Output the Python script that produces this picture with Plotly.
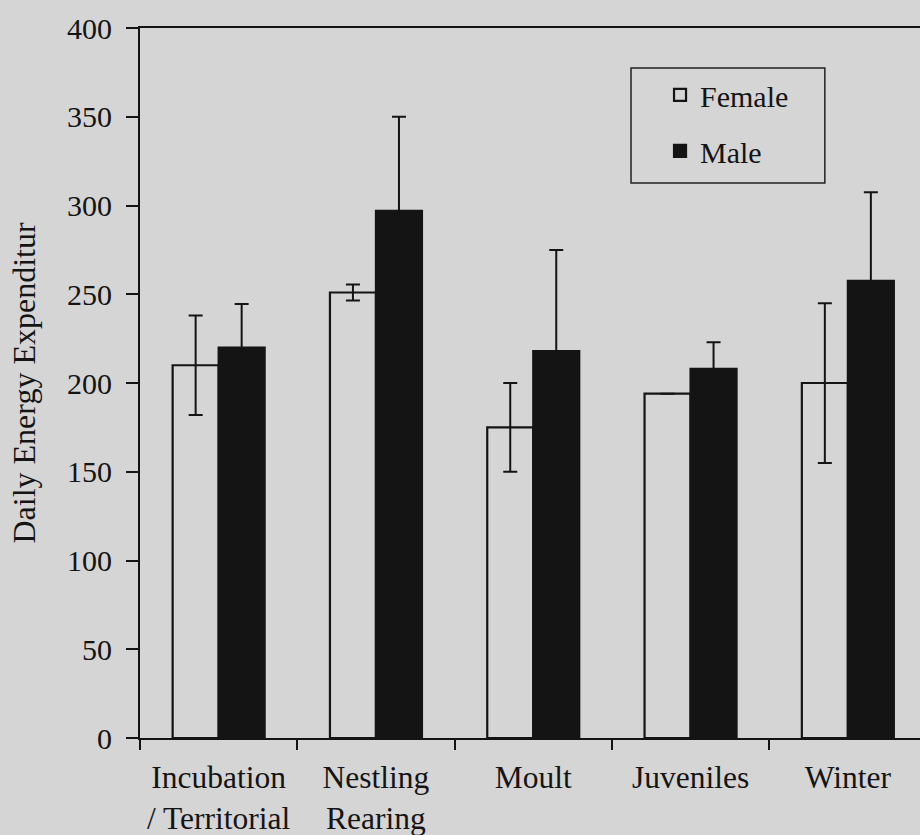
import numpy as np
import plotly.graph_objects as go

# Daily energy expenditure by season / breeding stage
stages = ["Incubation<br>/ Territorial", "Nestling<br>Rearing", "Moult", "Juveniles", "Winter"]
female_dee = [210, 251, 175, 194, 200]
female_err = [28, 4.5, 25, None, 45]
male_dee = [220, 297, 218, 208, 257.5]
male_err = [24.5, 53, 57, 15, 50]
y_ticks = [0, 50, 100, 150, 200, 250, 300, 350, 400]

PAPER = "#d5d5d5"
INK = "#141414"
FONT = "Liberation Serif"

fig = go.Figure()
fig.add_trace(go.Bar(
    name="Female", x=stages, y=female_dee,
    marker=dict(color=PAPER, line=dict(color=INK, width=2.2)),
    error_y=dict(type="data", array=female_err, visible=True,
                 color=INK, thickness=2, width=7),
    legendgroup="f",
))
fig.add_trace(go.Bar(
    name="Male", x=stages, y=male_dee,
    marker=dict(color=INK, line=dict(color=INK, width=2.2)),
    error_y=dict(type="data", array=male_err, visible=True,
                 color=INK, thickness=2, width=7),
    legendgroup="m",
))

x_end = 4.5 - 6.5 / 157.3  # plot runs slightly past the right edge

fig.update_layout(
    width=920, height=835,
    margin=dict(l=140, r=0, t=28, b=97),
    paper_bgcolor=PAPER, plot_bgcolor=PAPER,
    font=dict(family=FONT, size=30, color=INK),
    barmode="group", bargap=0.415, bargroupgap=0,
    showlegend=True,
    legend=dict(
        x=0.6667, y=0.9423, xanchor="left", yanchor="top",
        bgcolor="rgba(0,0,0,0)", borderwidth=0,
        font=dict(family=FONT, size=30, color=INK),
        tracegroupgap=14,
    ),
    xaxis=dict(
        type="category", range=[-0.5, x_end],
        tickson="boundaries", ticks="outside", ticklen=10, tickwidth=1.5, tickcolor=INK,
        ticklabelstandoff=10,
        showline=True, linecolor=INK, linewidth=2.2, mirror=True,
        showgrid=False, zeroline=False,
        tickfont=dict(family=FONT, size=31.5, color=INK),
    ),
    yaxis=dict(
        range=[0, 400], tickvals=y_ticks,
        ticks="outside", ticklen=12, tickwidth=1.5, tickcolor=INK,
        ticklabelstandoff=8,
        showline=True, linecolor=INK, linewidth=2.2, mirror=False,
        showgrid=False, zeroline=False,
        tickfont=dict(family=FONT, size=30, color=INK),
        title=dict(text="Daily Energy Expenditur", standoff=22,
                   font=dict(family=FONT, size=32, color=INK)),
    ),
    # inner halves of the crossing tick marks
    xaxis2=dict(
        overlaying="x", anchor="y", range=[-0.5, x_end],
        tickvals=list(np.arange(-0.5, 5.0, 1.0)), ticks="inside", ticklen=5,
        tickwidth=1.5, tickcolor=INK, showticklabels=False,
        showline=False, showgrid=False, zeroline=False,
    ),
    yaxis2=dict(
        overlaying="y", anchor="x", side="left", range=[0, 400],
        tickvals=y_ticks, ticks="inside", ticklen=8, tickwidth=1.5, tickcolor=INK,
        showticklabels=False, showline=False, showgrid=False, zeroline=False,
    ),
)

# legend frame
fig.add_shape(type="rect", xref="paper", yref="paper",
              x0=0.6295, x1=0.878, y0=0.7817, y1=0.9437,
              line=dict(color="#222222", width=1.5), fillcolor="rgba(0,0,0,0)")

fig.write_html("out.html")
